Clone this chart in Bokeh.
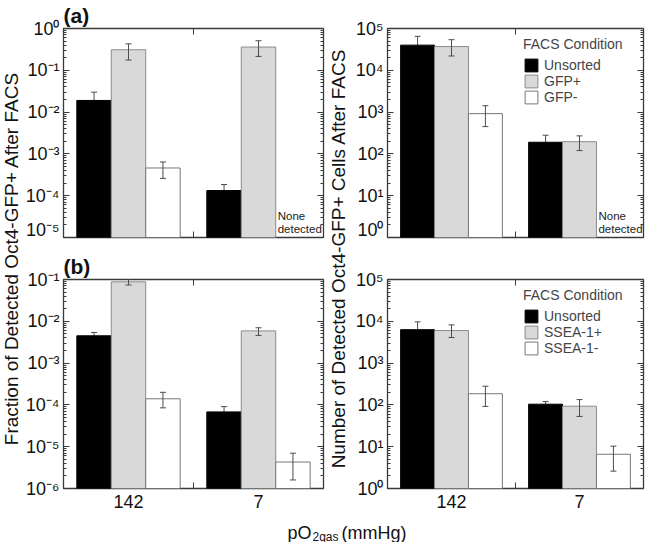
import math
from bokeh.plotting import figure
from bokeh.models import (Range1d, LogAxis, LinearAxis, FixedTicker,
                          ColumnDataSource, Whisker, TeeHead, Legend, LegendItem, Label)
from bokeh.layouts import row, column
from bokeh.embed import file_html
from bokeh.resources import INLINE
from bokeh.core.properties import value

FONT = "Liberation Sans"

# ---------------- data ----------------
po2_labels = ["142", "7"]               # pO2gas (mmHg)
series_a = ["Unsorted", "GFP+", "GFP-"]
series_b = ["Unsorted", "SSEA-1+", "SSEA-1-"]

# (a) fraction of detected Oct4-GFP+ after FACS
frac_a_unsorted = [0.019, 1.33e-4]
frac_a_unsorted_lo = [0.008, 0.8e-4]
frac_a_unsorted_hi = [0.030, 1.85e-4]
frac_a_pos = [0.31, 0.36]
frac_a_pos_lo = [0.176, 0.215]
frac_a_pos_hi = [0.43, 0.51]
frac_a_neg = [4.6e-4, None]
frac_a_neg_lo = [2.6e-4, None]
frac_a_neg_hi = [6.4e-4, None]

# (a) number of detected Oct4-GFP+ cells after FACS
count_a_unsorted = [4.0e4, 190]
count_a_unsorted_lo = [1.5e4, 100]
count_a_unsorted_hi = [6.5e4, 280]
count_a_pos = [3.7e4, 196]
count_a_pos_lo = [2.2e4, 120]
count_a_pos_hi = [5.4e4, 270]
count_a_neg = [920, None]
count_a_neg_lo = [450, None]
count_a_neg_hi = [1420, None]

# (b) fraction of detected Oct4-GFP+ after FACS
frac_b_unsorted = [4.5e-3, 6.8e-5]
frac_b_unsorted_lo = [3.6e-3, 4.5e-5]
frac_b_unsorted_hi = [5.4e-3, 9.1e-5]
frac_b_pos = [0.088, 5.9e-3]
frac_b_pos_lo = [0.074, 4.6e-3]
frac_b_pos_hi = [0.100, 7.0e-3]
frac_b_neg = [1.4e-4, 4.3e-6]
frac_b_neg_lo = [8.5e-5, 1.6e-6]
frac_b_neg_hi = [2.0e-4, 7.0e-6]

# (b) number of detected Oct4-GFP+ cells after FACS
count_b_unsorted = [6.3e3, 104]
count_b_unsorted_lo = [3.0e3, 88]
count_b_unsorted_hi = [9.7e3, 120]
count_b_pos = [6.0e3, 93]
count_b_pos_lo = [4.1e3, 53]
count_b_pos_hi = [8.2e3, 134]
count_b_neg = [185, 6.6]
count_b_neg_lo = [92, 2.6]
count_b_neg_hi = [280, 10.3]

# tick values / labels
frac_a_ticks = [1e-5, 1e-4, 1e-3, 1e-2, 1e-1, 1e0]
frac_a_tick_labels = ["10\u207b\u2075", "10\u207b\u2074", "10\u207b\u00b3", "10\u207b\u00b2", "10\u207b\u00b9", "10\u2070"]
frac_b_ticks = [1e-6, 1e-5, 1e-4, 1e-3, 1e-2, 1e-1]
frac_b_tick_labels = ["10\u207b\u2076", "10\u207b\u2075", "10\u207b\u2074", "10\u207b\u00b3", "10\u207b\u00b2", "10\u207b\u00b9"]
count_ticks = [1e0, 1e1, 1e2, 1e3, 1e4, 1e5]
count_tick_labels = ["10\u2070", "10\u00b9", "10\u00b2", "10\u00b3", "10\u2074", "10\u2075"]

none_text = "None\ndetected"
left_ylabel = "Fraction of Detected Oct4-GFP+ After FACS"
right_ylabel = "Number of Detected Oct4-GFP+ Cells After FACS"

# ---------------- styling ----------------
FILLS = ["#000000", "#d9d9d9", "#ffffff"]
LINES = ["#000000", "#8a8a8a", "#777777"]
BAR_W = 0.265
OFFSETS = [-BAR_W, 0.0, BAR_W]
ERR_COLOR = "#4d4d4d"
FRAME_COLOR = "#3a3a3a"


def blank_axis(cls, ticker):
    ticks = ticker.ticks
    return cls(ticker=ticker, axis_line_color=None, major_tick_in=6, major_tick_out=0,
               minor_tick_in=3, minor_tick_out=0,
               major_tick_line_color=FRAME_COLOR, minor_tick_line_color=FRAME_COLOR,
               major_label_overrides={t: "" for t in ticks},
               major_label_text_font=FONT, major_label_text_font_size="10px",
               major_label_standoff=0)


def make_panel(series, names, ticks, tick_labels, title, width, height, borders,
               show_x_labels, legend_loc):
    y0, y1 = ticks[0], ticks[-1]
    bl, br, bt, bb = borders
    p = figure(width=width, height=height, x_range=Range1d(0.5, 2.5), y_range=Range1d(y0, y1),
               y_axis_type="log", x_axis_location=None, y_axis_location=None,
               output_backend="svg", toolbar_location=None,
               min_border_left=bl, min_border_right=br, min_border_top=bt, min_border_bottom=bb)
    p.grid.visible = False
    p.outline_line_color = FRAME_COLOR
    p.outline_line_width = 1.3
    p.background_fill_color = "white"
    p.border_fill_color = "white"

    xpos = [i + 1 for i in range(len(po2_labels))]
    legend_items = []
    for j, (vals, lows, highs) in enumerate(series):
        xs, tops, los, his = [], [], [], []
        missing = []
        for i, v in enumerate(vals):
            if v is None:
                missing.append(xpos[i] + OFFSETS[j] - BAR_W / 2)
                continue
            xs.append(xpos[i] + OFFSETS[j])
            tops.append(v)
            los.append(lows[i])
            his.append(highs[i])
        src = ColumnDataSource(dict(x=xs, top=tops, lo=los, hi=his))
        r = p.vbar(x="x", top="top", bottom=y0, width=BAR_W, source=src,
                   fill_color=FILLS[j], line_color=LINES[j], line_width=1)
        legend_items.append(LegendItem(label=names[j], renderers=[r]))
        w = Whisker(source=src, base="x", lower="lo", upper="hi",
                    line_color=ERR_COLOR, line_width=1,
                    upper_head=TeeHead(size=6, line_color=ERR_COLOR, line_width=1),
                    lower_head=TeeHead(size=6, line_color=ERR_COLOR, line_width=1),
                    level="underlay" if j == 0 else "annotation")
        p.add_layout(w)
        if missing:
            p.text(x=missing, y=[y0] * len(missing), text=[none_text] * len(missing),
                   text_font=value(FONT), text_font_size="11.5px", text_color="#222222",
                   text_align="left", text_baseline="bottom", x_offset=2, y_offset=-2,
                   text_line_height=1.15)

    ticker = FixedTicker(ticks=ticks,
                         minor_ticks=[d * k for d in ticks[:-1] for k in range(2, 10)])
    left = LogAxis(ticker=ticker, major_label_overrides=dict(zip(ticks, tick_labels)),
                   axis_line_color=None, major_tick_in=6, major_tick_out=0,
                   minor_tick_in=3, minor_tick_out=0,
                   major_tick_line_color=FRAME_COLOR, minor_tick_line_color=FRAME_COLOR,
                   major_label_text_font=FONT, major_label_text_font_size="18px",
                   major_label_text_color="#111111", major_label_standoff=4)
    p.add_layout(left, "left")
    p.add_layout(blank_axis(LogAxis, ticker), "right")

    mid = FixedTicker(ticks=[1.5], minor_ticks=[])
    p.add_layout(blank_axis(LinearAxis, mid), "below")
    p.add_layout(blank_axis(LinearAxis, mid), "above")
    if show_x_labels:
        cat = LinearAxis(ticker=FixedTicker(ticks=xpos, minor_ticks=[]),
                         major_label_overrides=dict(zip(xpos, po2_labels)),
                         axis_line_color=None, major_tick_line_color=None,
                         minor_tick_line_color=None, major_tick_in=0, major_tick_out=0,
                         major_label_text_font=FONT, major_label_text_font_size="18px",
                         major_label_text_color="#111111", major_label_standoff=6)
        p.add_layout(cat, "below")

    if title:
        p.title.text = title
        p.title.text_font = FONT
        p.title.text_font_size = "21px"
        p.title.text_font_style = "bold"
        p.title.align = "left"
        p.title.standoff = 3
        p.title.text_color = "#111111"

    if legend_loc is not None:
        lg = Legend(items=legend_items, location=legend_loc, title="FACS Condition",
                    title_text_font=FONT, title_text_font_size="14px",
                    title_text_font_style="normal", title_standoff=5,
                    label_text_font=FONT, label_text_font_size="14px",
                    glyph_width=16, glyph_height=16, label_height=16, spacing=0,
                    label_standoff=5, padding=4, margin=0,
                    background_fill_alpha=0, border_line_color=None)
        p.add_layout(lg)
    return p


def label_fig(w, h):
    f = figure(width=w, height=h, x_range=Range1d(0, w), y_range=Range1d(0, h),
               x_axis_location=None, y_axis_location=None, output_backend="svg",
               toolbar_location=None, min_border=0, outline_line_color=None)
    f.grid.visible = False
    return f


W_L, W_LEFT, W_M, W_RIGHT = 22, 305, 22, 296
FRAME_H = 209
TOP_B, MID_B, BOT_B = 28, 40, 27
H_TOP = TOP_B + FRAME_H + 2
H_BOT = MID_B + FRAME_H + BOT_B
H_X = 542 - H_TOP - H_BOT
LEG_LOC = (136, 132)

tl = make_panel([(frac_a_unsorted, frac_a_unsorted_lo, frac_a_unsorted_hi),
                 (frac_a_pos, frac_a_pos_lo, frac_a_pos_hi),
                 (frac_a_neg, frac_a_neg_lo, frac_a_neg_hi)],
                series_a, frac_a_ticks, frac_a_tick_labels, "(a)",
                W_LEFT, H_TOP, (41, 4, TOP_B, 2), False, None)
tr = make_panel([(count_a_unsorted, count_a_unsorted_lo, count_a_unsorted_hi),
                 (count_a_pos, count_a_pos_lo, count_a_pos_hi),
                 (count_a_neg, count_a_neg_lo, count_a_neg_hi)],
                series_a, count_ticks, count_tick_labels, None,
                W_RIGHT, H_TOP, (38, 2, TOP_B, 2), False, LEG_LOC)
bl = make_panel([(frac_b_unsorted, frac_b_unsorted_lo, frac_b_unsorted_hi),
                 (frac_b_pos, frac_b_pos_lo, frac_b_pos_hi),
                 (frac_b_neg, frac_b_neg_lo, frac_b_neg_hi)],
                series_b, frac_b_ticks, frac_b_tick_labels, "(b)",
                W_LEFT, H_BOT, (41, 4, MID_B, BOT_B), True, None)
br = make_panel([(count_b_unsorted, count_b_unsorted_lo, count_b_unsorted_hi),
                 (count_b_pos, count_b_pos_lo, count_b_pos_hi),
                 (count_b_neg, count_b_neg_lo, count_b_neg_hi)],
                series_b, count_ticks, count_tick_labels, None,
                W_RIGHT, H_BOT, (38, 2, MID_B, BOT_B), True, LEG_LOC)

H_COL = H_TOP + H_BOT
center_y = H_COL - (TOP_B + (H_TOP + MID_B + FRAME_H - TOP_B) / 2)

lf = label_fig(W_L, H_COL)
lf.add_layout(Label(x=W_L / 2, y=center_y, text=left_ylabel, angle=math.pi / 2,
                    text_align="center", text_baseline="middle", text_font=FONT,
                    text_font_size="19px", text_color="#111111"))
mf = label_fig(W_M, H_COL)
mf.add_layout(Label(x=W_M / 2, y=center_y, text=right_ylabel, angle=math.pi / 2,
                    text_align="center", text_baseline="middle", text_font=FONT,
                    text_font_size="19px", text_color="#111111"))

W_TOTAL = W_L + W_LEFT + W_M + W_RIGHT
xf = label_fig(W_TOTAL, H_X)
x0 = 287
xf.add_layout(Label(x=x0, y=10, text="pO", text_align="left", text_baseline="alphabetic",
                    text_font=FONT, text_font_size="18px", text_color="#111111"))
xf.add_layout(Label(x=x0 + 25, y=6, text="2gas", text_align="left", text_baseline="alphabetic",
                    text_font=FONT, text_font_size="12px", text_color="#111111"))
xf.add_layout(Label(x=x0 + 54, y=10, text="(mmHg)", text_align="left", text_baseline="alphabetic",
                    text_font=FONT, text_font_size="18px", text_color="#111111"))

layout = column(row(lf, column(tl, bl), mf, column(tr, br)), xf)

with open("out.html", "w") as fh:
    fh.write(file_html(layout, INLINE))
